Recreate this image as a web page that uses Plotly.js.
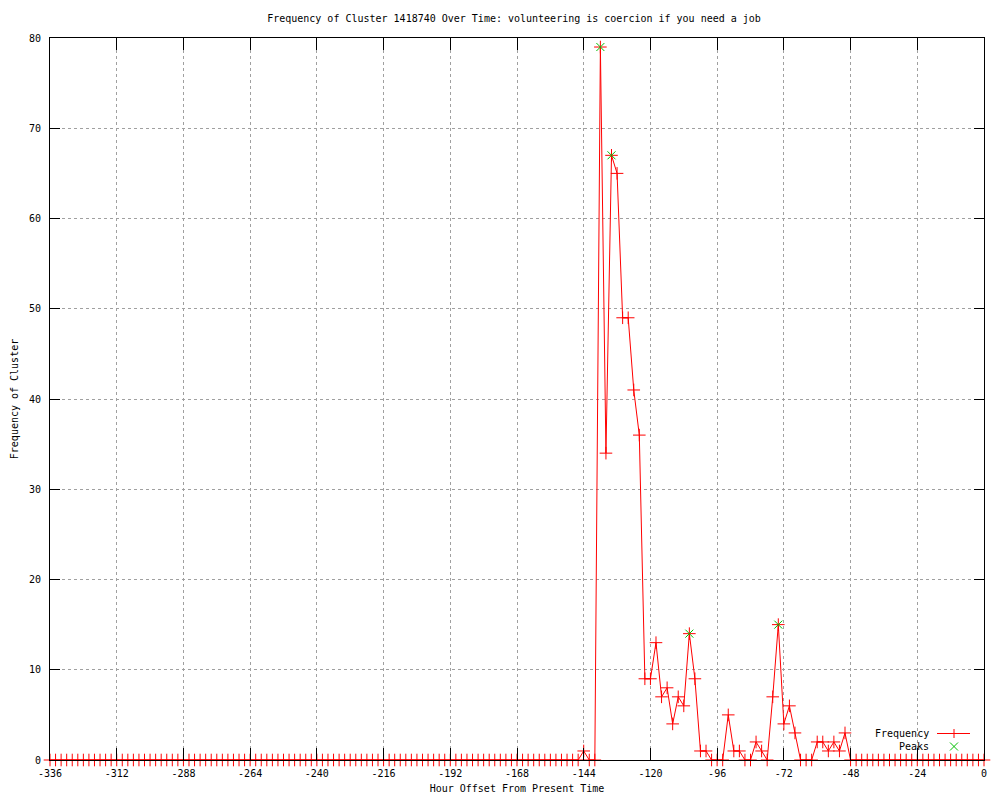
<!DOCTYPE html>
<html>
<head>
<meta charset="utf-8">
<script src="https://cdn.plot.ly/plotly-3.0.1.min.js"></script>
<style>html,body{margin:0;padding:0;background:#fff;}#chart{width:1000px;height:800px;}</style>
</head>
<body>
<div id="chart"></div>
<script>
// Hour offsets (x values)
var hours = [
-336,-334,-332,-330,-328,-326,-324,-322,-320,-318,-316,-314,-312,-310,-308,-306,-304,-302,-300,-298,
-296,-294,-292,-290,-288,-286,-284,-282,-280,-278,-276,-274,-272,-270,-268,-266,-264,-262,-260,-258,
-256,-254,-252,-250,-248,-246,-244,-242,-240,-238,-236,-234,-232,-230,-228,-226,-224,-222,-220,-218,
-216,-214,-212,-210,-208,-206,-204,-202,-200,-198,-196,-194,-192,-190,-188,-186,-184,-182,-180,-178,
-176,-174,-172,-170,-168,-166,-164,-162,-160,-158,-156,-154,-152,-150,-148,-146,-144,-142,-140,-138,
-136,-134,-132,-130,-128,-126,-124,-122,-120,-118,-116,-114,-112,-110,-108,-106,-104,-102,-100,-98,
-96,-94,-92,-90,-88,-86,-84,-82,-80,-78,-76,-74,-72,-70,-68,-66,-64,-62,-60,-58,
-56,-54,-52,-50,-48,-46,-44,-42,-40,-38,-36,-34,-32,-30,-28,-26,-24,-22,-20,-18,
-16,-14,-12,-10,-8,-6,-4,-2,0
];
// Frequency of cluster at each hour offset
var frequency = [
0,0,0,0,0,0,0,0,0,0,0,0,0,0,0,0,0,0,0,0,
0,0,0,0,0,0,0,0,0,0,0,0,0,0,0,0,0,0,0,0,
0,0,0,0,0,0,0,0,0,0,0,0,0,0,0,0,0,0,0,0,
0,0,0,0,0,0,0,0,0,0,0,0,0,0,0,0,0,0,0,0,
0,0,0,0,0,0,0,0,0,0,0,0,0,0,0,0,1,0,0,79,
34,67,65,49,49,41,36,9,9,13,7,8,4,7,6,14,9,1,1,0,
0,0,5,1,1,0,0,2,1,0,7,15,4,6,3,0,0,0,2,2,
1,2,1,3,0,0,0,0,0,0,0,0,0,0,0,0,0,0,0,0,
0,0,0,0,0,0,0,0,0
];
// Peaks
var peakHours = [-138, -134, -106, -74];
var peakValues = [79, 67, 14, 15];

var xTickVals = [-336,-312,-288,-264,-240,-216,-192,-168,-144,-120,-96,-72,-48,-24,0];
var xTickText = ["-336","-312","-288","-264","-240","-216","-192","-168","-144","-120","-96","-72","-48","-24","0"];
var yTickVals = [0,10,20,30,40,50,60,70,80];
var yTickText = ["0","10","20","30","40","50","60","70","80"];

var FONT = 'DejaVu Sans Mono, Liberation Mono, monospace';

var traces = [
  {
    x: hours, y: frequency, type: 'scatter', mode: 'lines+markers', name: 'Frequency',
    line: {color: '#ff0000', width: 1},
    marker: {symbol: 'cross-thin-open', size: 9, color: '#ff0000', line: {color: '#ff0000', width: 1}},
    cliponaxis: false, showlegend: false
  },
  {
    x: peakHours, y: peakValues, type: 'scatter', mode: 'markers', name: 'Peaks',
    marker: {symbol: 'x-thin-open', size: 8, color: '#00c000', line: {color: '#00c000', width: 1}},
    cliponaxis: false, showlegend: false
  }
];

// legend geometry helpers (paper coords from pixel positions)
function px(x){ return (x - 50) / 934; }
function py(y){ return (760 - y) / 722; }

var layout = {
  width: 1000, height: 800,
  margin: {l: 50, r: 16, t: 38, b: 40},
  paper_bgcolor: '#ffffff', plot_bgcolor: '#ffffff',
  font: {family: FONT, size: 10, color: '#000'},
  title: {text: 'Frequency of Cluster 1418740 Over Time: volunteering is coercion if you need a job',
          font: {family: FONT, size: 10, color: '#000'},
          xref: 'container', yref: 'container', x: 0.514, y: 1 - 18/800, xanchor: 'center', yanchor: 'middle'},
  xaxis: {
    range: [-336, 0], tickmode: 'array', tickvals: xTickVals, ticktext: xTickText,
    ticks: 'inside', ticklen: 12, tickwidth: 1, tickcolor: '#000',
    showline: true, linecolor: '#000', linewidth: 1, mirror: 'ticks',
    showgrid: true, gridcolor: '#a0a0a0', griddash: 'dot', gridwidth: 1,
    zeroline: false, ticklabelstandoff: 4,
    tickfont: {family: FONT, size: 10, color: '#000'},
    title: {text: 'Hour Offset From Present Time', font: {family: FONT, size: 10, color: '#000'}, standoff: 6},
    automargin: false
  },
  yaxis: {
    range: [0, 80], tickmode: 'array', tickvals: yTickVals, ticktext: yTickText,
    ticks: 'inside', ticklen: 10, tickwidth: 1, tickcolor: '#000',
    showline: true, linecolor: '#000', linewidth: 1, mirror: 'ticks',
    showgrid: true, gridcolor: '#a0a0a0', griddash: 'dot', gridwidth: 1,
    zeroline: false, ticklabelstandoff: 6,
    tickfont: {family: FONT, size: 10, color: '#000'},
    title: {text: 'Frequency of Cluster', font: {family: FONT, size: 10, color: '#000'}, standoff: 8},
    automargin: false
  },
  annotations: [
    {xref: 'paper', yref: 'paper', x: px(931), y: py(733.5), text: 'Frequency', showarrow: false,
     xanchor: 'right', yanchor: 'middle', font: {family: FONT, size: 10, color: '#000'}},
    {xref: 'paper', yref: 'paper', x: px(931), y: py(746.5), text: 'Peaks', showarrow: false,
     xanchor: 'right', yanchor: 'middle', font: {family: FONT, size: 10, color: '#000'}}
  ],
  shapes: [
    {type: 'line', xref: 'paper', yref: 'paper', x0: px(937), x1: px(970), y0: py(733.5), y1: py(733.5), line: {color: '#ff0000', width: 1}},
    {type: 'line', xref: 'paper', yref: 'paper', x0: px(954), x1: px(954), y0: py(729), y1: py(738), line: {color: '#ff0000', width: 1}},
    {type: 'line', xref: 'paper', yref: 'paper', x0: px(950), x1: px(958), y0: py(742.5), y1: py(750.5), line: {color: '#00c000', width: 1}},
    {type: 'line', xref: 'paper', yref: 'paper', x0: px(950), x1: px(958), y0: py(750.5), y1: py(742.5), line: {color: '#00c000', width: 1}}
  ],
  showlegend: false
};

Plotly.newPlot('chart', traces, layout, {displayModeBar: false, staticPlot: true});
</script>
</body>
</html>
